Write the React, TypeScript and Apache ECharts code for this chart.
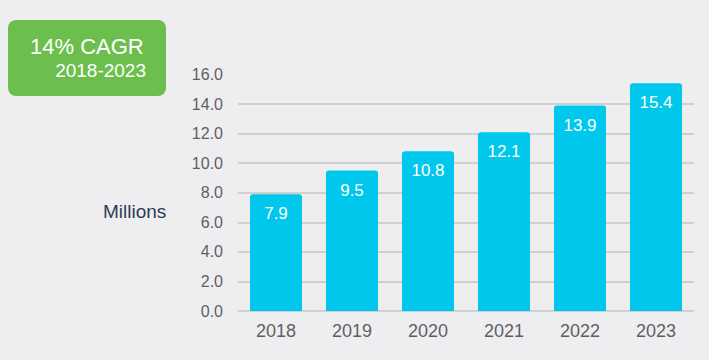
import React, { useEffect, useRef } from "react";
import * as echarts from "echarts";

const years = ["2018", "2019", "2020", "2021", "2022", "2023"];
const values = [7.9, 9.5, 10.8, 12.1, 13.9, 15.4];
const badgeTitle = "14% CAGR";
const badgeSub = "2018-2023";
const unitLabel = "Millions";

export default function App() {
  const ref = useRef<HTMLDivElement>(null);
  useEffect(() => {
    if (!ref.current) return;
    const chart = echarts.init(ref.current, null, { renderer: "svg" });
    const font = "'Liberation Sans', Arial, sans-serif";
    chart.setOption({
      animation: false,
      backgroundColor: "#eeeef0",
      grid: { left: 238, right: 15, top: 74.5, bottom: 49 },
      xAxis: {
        type: "category",
        data: years,
        axisLine: { show: false },
        axisTick: { show: false },
        axisLabel: { color: "#5f5f63", fontSize: 18, margin: 11, fontFamily: font },
      },
      yAxis: {
        type: "value",
        min: 0,
        max: 16,
        interval: 2,
        axisLine: { show: false },
        axisTick: { show: false },
        axisLabel: {
          color: "#5f5f63",
          fontSize: 16,
          margin: 15,
          fontFamily: font,
          formatter: (v: number) => v.toFixed(1),
        },
        splitLine: {
          show: true,
          showMinLine: true,
          showMaxLine: false,
          lineStyle: { color: "#c6c6c8", width: 1.5 },
        },
      },
      series: [
        {
          type: "bar",
          data: values,
          barWidth: 52,
          itemStyle: { color: "#00c8ec", borderRadius: [3, 3, 0, 0] },
          label: {
            show: true,
            position: "insideTop",
            distance: 11,
            color: "#ffffff",
            fontSize: 17,
            fontFamily: font,
            formatter: (p: any) => String(p.value),
          },
        },
      ],
      graphic: [
        {
          type: "rect",
          shape: { x: 8, y: 20, width: 158, height: 76, r: 8 },
          style: { fill: "#6cbf4c" },
        },
        {
          type: "text",
          x: 30,
          y: 46,
          style: {
            text: badgeTitle,
            fill: "#ffffff",
            fontSize: 22,
            fontFamily: font,
            verticalAlign: "middle",
          },
        },
        {
          type: "text",
          x: 146,
          y: 70,
          style: {
            text: badgeSub,
            fill: "#ffffff",
            fontSize: 19,
            fontFamily: font,
            align: "right",
            verticalAlign: "middle",
          },
        },
        {
          type: "text",
          x: 103,
          y: 211,
          style: {
            text: unitLabel,
            fill: "#2f3b58",
            fontSize: 19,
            fontFamily: font,
            verticalAlign: "middle",
          },
        },
      ],
    });
    return () => chart.dispose();
  }, []);
  return (
    <div
      ref={ref}
      style={{ position: "absolute", left: 0, top: 0, width: 709, height: 360 }}
    />
  );
}
